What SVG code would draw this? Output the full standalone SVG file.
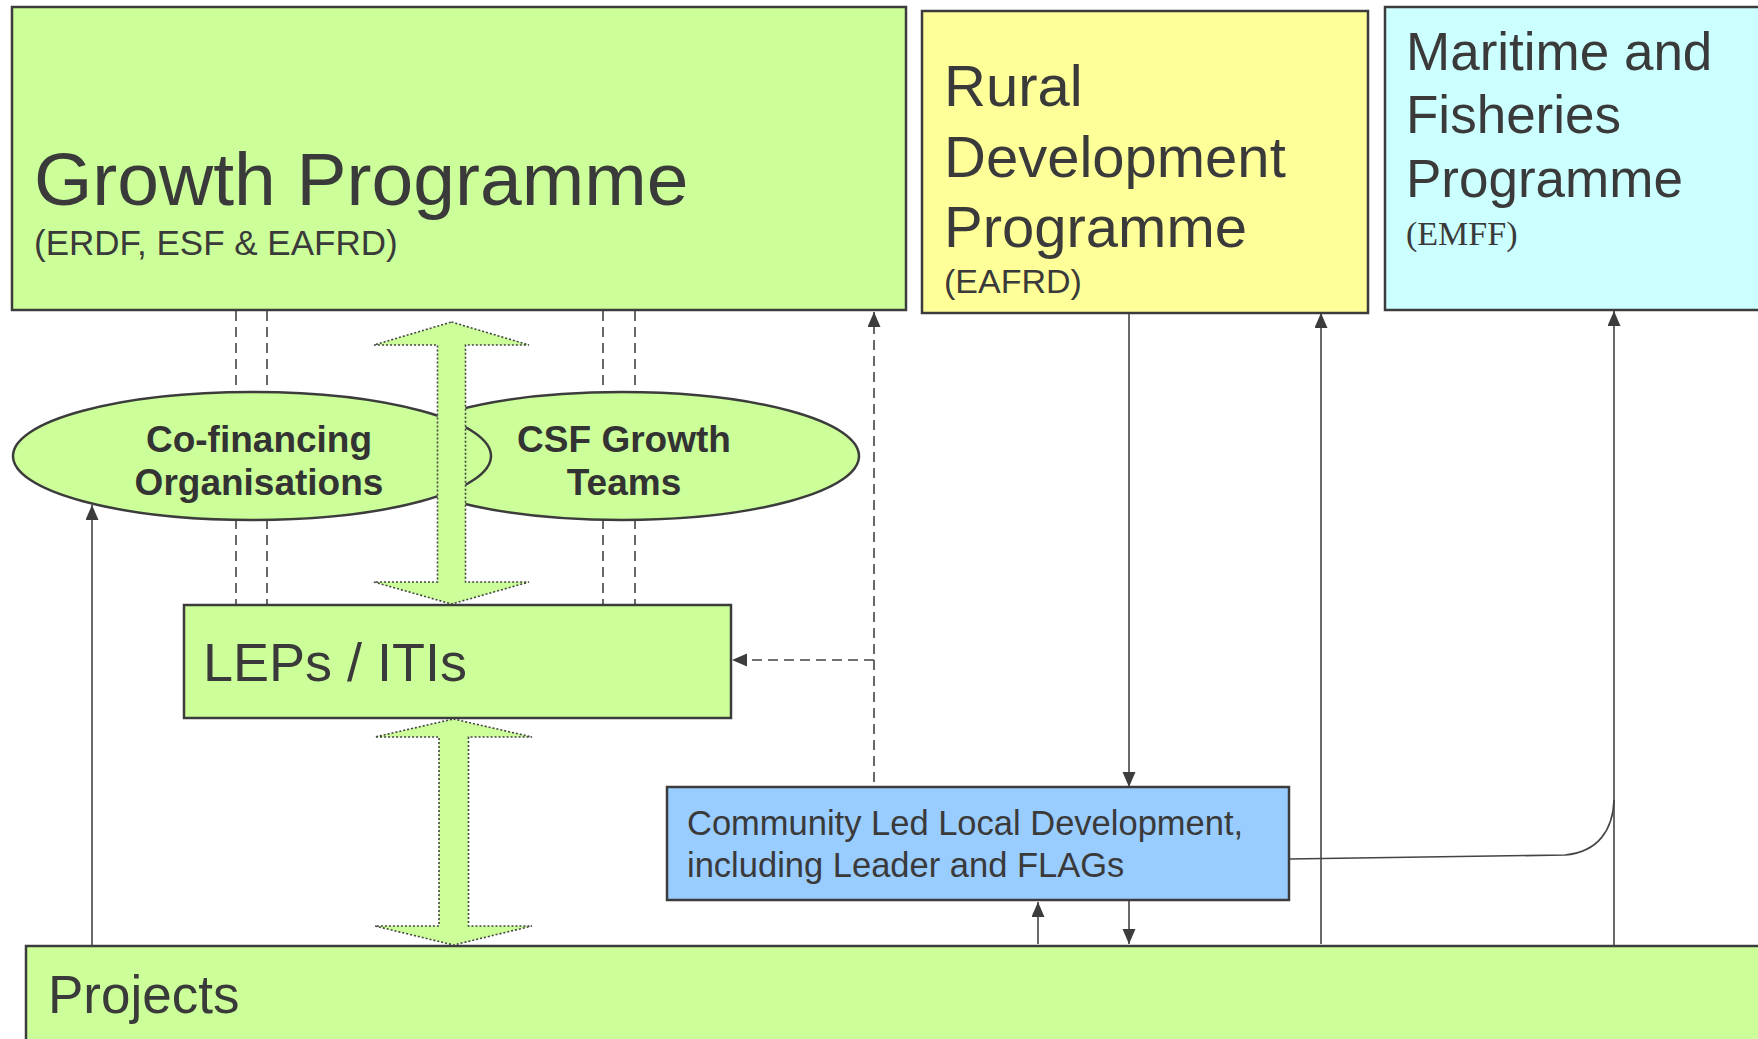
<svg xmlns="http://www.w3.org/2000/svg" width="1758" height="1039" viewBox="0 0 1758 1039">
<style>
.box{stroke:#3c3c3c;stroke-width:2.5}
.g{fill:#ccff99}.y{fill:#ffff99}.c{fill:#ccffff}.b{fill:#99ccff}
.t{font-family:"Liberation Sans",Arial,sans-serif;fill:#3a3a3a}
.s{font-family:"Liberation Serif","Times New Roman",serif;fill:#3a3a3a}
.eb{font-family:"Liberation Sans",Arial,sans-serif;font-weight:bold;fill:#333;font-size:37px;text-anchor:middle}
.ln{fill:none;stroke:#444;stroke-width:1.6}
.dl{fill:none;stroke:#444;stroke-width:1.6;stroke-dasharray:10,6}
.big{fill:#ccff99;stroke:#444;stroke-width:1.6;stroke-dasharray:2,2}
</style>
<defs>
<marker id="ah" markerUnits="userSpaceOnUse" markerWidth="16" markerHeight="14" refX="15" refY="6.5" orient="auto">
<path d="M0,0 L15,6.5 L0,13 Z" fill="#3c3c3c"/>
</marker>
</defs>
<rect width="1758" height="1039" fill="#fff"/>

<g id="growth">
<rect class="box g" x="12" y="7" width="894" height="303"/>
<text class="t" x="34" y="205" font-size="75">Growth Programme</text>
<text class="t" x="34" y="255" font-size="35">(ERDF, ESF &amp; EAFRD)</text>
</g>

<g id="rural">
<rect class="box y" x="922" y="11" width="446" height="302"/>
<text class="t" x="944" y="106" font-size="58">Rural</text>
<text class="t" x="944" y="177" font-size="58">Development</text>
<text class="t" x="944" y="247" font-size="58">Programme</text>
<text class="t" x="944" y="293" font-size="34">(EAFRD)</text>
</g>

<g id="maritime">
<rect class="box c" x="1385" y="7" width="380" height="303"/>
<text class="t" x="1406" y="70" font-size="53">Maritime and</text>
<text class="t" x="1406" y="133" font-size="53">Fisheries</text>
<text class="t" x="1406" y="197" font-size="53">Programme</text>
<text class="s" x="1406" y="245" font-size="34">(EMFF)</text>
</g>

<g id="projects">
<rect class="box g" x="26" y="946" width="1740" height="100"/>
<text class="t" x="48" y="1013" font-size="53">Projects</text>
</g>

<g id="connectors">
<line class="dl" x1="236" y1="311" x2="236" y2="605"/>
<line class="dl" x1="267" y1="311" x2="267" y2="605"/>
<line class="dl" x1="603" y1="311" x2="603" y2="605"/>
<line class="dl" x1="635" y1="311" x2="635" y2="605"/>
<line class="dl" x1="874" y1="782" x2="874" y2="312" marker-end="url(#ah)"/>
<line class="dl" x1="874" y1="660" x2="732" y2="660" marker-end="url(#ah)"/>
<line class="ln" x1="92" y1="946" x2="92" y2="505" marker-end="url(#ah)"/>
<line class="ln" x1="1129" y1="314" x2="1129" y2="787" marker-end="url(#ah)"/>
<line class="ln" x1="1129" y1="901" x2="1129" y2="944" marker-end="url(#ah)"/>
<line class="ln" x1="1038" y1="944" x2="1038" y2="902" marker-end="url(#ah)"/>
<line class="ln" x1="1321" y1="944" x2="1321" y2="313" marker-end="url(#ah)"/>
<line class="ln" x1="1614" y1="946" x2="1614" y2="311" marker-end="url(#ah)"/>
<path class="ln" d="M1289,859 L1565,855 C1598,852 1613,830 1614,800"/>
</g>

<g id="csf">
<ellipse class="box g" cx="622" cy="456" rx="237" ry="64"/>
<text class="eb" x="624" y="452">CSF Growth</text>
<text class="eb" x="624" y="495">Teams</text>
</g>

<g id="cofin">
<ellipse class="box g" cx="252" cy="456" rx="239" ry="64"/>
<text class="eb" x="259" y="452">Co-financing</text>
<text class="eb" x="259" y="495">Organisations</text>
</g>

<g id="arrow-upper">
<polygon class="big" points="451.5,322 529,345 465.5,345 465.5,582 529,582 451.5,604 374,582 437.5,582 437.5,345 374,345"/>
</g>

<g id="leps">
<rect class="box g" x="184" y="605" width="547" height="113" stroke-width="3"/>
<text class="t" x="203" y="681" font-size="54">LEPs / ITIs</text>
</g>

<g id="arrow-lower">
<polygon class="big" points="453.5,719 532,737 468.5,737 468.5,926 532,926 453.5,945 375,926 439,926 439,737 375,737"/>
</g>

<g id="clld">
<rect class="box b" x="667" y="787" width="622" height="113"/>
<text class="t" x="687" y="835" font-size="34.5">Community Led Local Development,</text>
<text class="t" x="687" y="877" font-size="34.5">including Leader and FLAGs</text>
</g>
</svg>
